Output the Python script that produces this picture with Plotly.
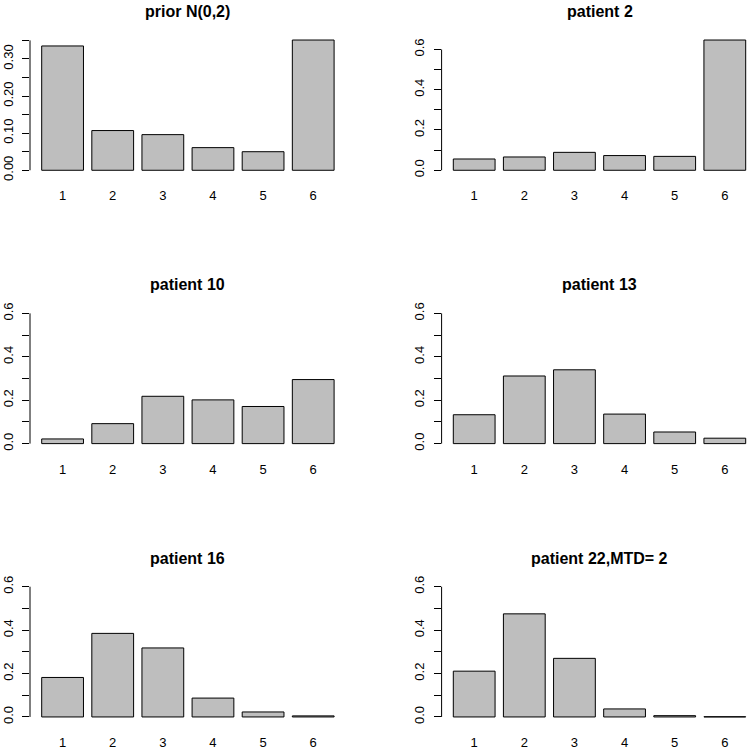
import plotly.graph_objects as go

# ---- data ----
categories = ["1", "2", "3", "4", "5", "6"]
titles = ["prior N(0,2)", "patient 2", "patient 10", "patient 13", "patient 16", "patient 22,MTD= 2"]
prior = [0.335, 0.107, 0.096, 0.061, 0.050, 0.351]
patient2 = [0.056, 0.066, 0.089, 0.073, 0.069, 0.647]
patient10 = [0.0215, 0.092, 0.218, 0.2015, 0.171, 0.295]
patient13 = [0.133, 0.3115, 0.340, 0.136, 0.0535, 0.025]
patient16 = [0.182, 0.385, 0.318, 0.087, 0.023, 0.005]
patient22 = [0.211, 0.475, 0.270, 0.037, 0.006, 0.001]
series = [prior, patient2, patient10, patient13, patient16, patient22]

prior_ticks = [0.00, 0.05, 0.10, 0.15, 0.20, 0.25, 0.30, 0.35]
prior_ticklabels = ["0.00", "", "0.10", "", "0.20", "", "0.30", ""]
std_ticks = [0.0, 0.1, 0.2, 0.3, 0.4, 0.5, 0.6]
std_ticklabels = ["0.0", "", "0.2", "", "0.4", "", "0.6"]
std_ylim = [0.0, 0.6]

# ---- layout geometry (pixels) ----
W, H = 749, 750
FONT = "Liberation Sans, Arial, sans-serif"
VS = 0.985  # vertical compensation


def py(y):
    return H / 2 + (y - H / 2) / VS


space, bw = 0.2, 1.0
centers = [space + i * (bw + space) + bw / 2 for i in range(len(categories))]
xmin, xmax = space, len(categories) * (bw + space)
ext = 0.04 * (xmax - xmin)
xr = [xmin - ext, xmax + ext]
col_left_px = [30.0, 441.6]
col_width_px = 315.8
px_per_unit = col_width_px / (xr[1] - xr[0])
row_top_px = [34.5, 308.5, 582.5]
row_h_px = 141.0

fig = go.Figure()
layout = dict(
    width=W, height=H, margin=dict(l=0, r=0, t=0, b=0),
    plot_bgcolor="white", paper_bgcolor="white", showlegend=False,
    font=dict(family=FONT, color="black"),
    shapes=[], annotations=[],
)

for k, vals in enumerate(series):
    r, c = divmod(k, 2)
    idx = "" if k == 0 else str(k + 1)
    xl = col_left_px[c]
    xrt = min(xl + col_width_px, W)
    xrange = [xr[0], xr[0] + (xrt - xl) / px_per_unit]
    top = row_top_px[r]
    ydom = [1 - py(top + row_h_px) / H, 1 - py(top) / H]
    if k < 2:
        ylim = [0, max(vals)]
    else:
        ylim = std_ylim
    yext = 0.04 * (ylim[1] - ylim[0])
    yrange = [ylim[0] - yext, ylim[1] + yext]
    if k == 0:
        tv, tt = prior_ticks, prior_ticklabels
    else:
        tv, tt = std_ticks, std_ticklabels

    fig.add_trace(go.Bar(
        x=centers, y=vals, width=bw,
        marker=dict(color="#BEBEBE", line=dict(color="black", width=1)),
        xaxis="x" + idx, yaxis="y" + idx,
    ))
    layout["xaxis" + idx] = dict(
        domain=[xl / W, xrt / W], range=xrange, anchor="y" + idx,
        showgrid=False, zeroline=False, showline=False, ticks="",
        tickmode="array", tickvals=centers, ticktext=categories,
        tickfont=dict(family=FONT, size=13, color="black"),
        ticklabelstandoff=11, fixedrange=True,
    )
    layout["yaxis" + idx] = dict(
        domain=ydom, range=yrange, anchor="x" + idx,
        showgrid=False, zeroline=False, showline=False,
        ticks="outside", ticklen=7, tickwidth=1, tickcolor="black",
        tickmode="array", tickvals=tv, ticktext=tt, tickangle=-90,
        tickfont=dict(family=FONT, size=13, color="black"),
        ticklabelstandoff=4, fixedrange=True,
    )
    layout["shapes"].append(dict(
        type="line", xref="x" + idx + " domain", yref="y" + idx,
        x0=0, x1=0, y0=tv[0], y1=tv[-1],
        line=dict(color="black", width=1),
    ))
    layout["annotations"].append(dict(
        text="<b>" + titles[k] + "</b>", showarrow=False,
        xref="paper", yref="paper",
        x=(xl + col_width_px / 2) / W, y=1 - py(top - 23.5) / H,
        xanchor="center", yanchor="middle",
        font=dict(family=FONT, size=16, color="black"),
    ))

fig.update_layout(**layout)
fig.write_html(
    "out.html",
    config={"displayModeBar": False},
    post_script="document.body.style.margin='0';document.body.style.overflow='hidden';",
)
